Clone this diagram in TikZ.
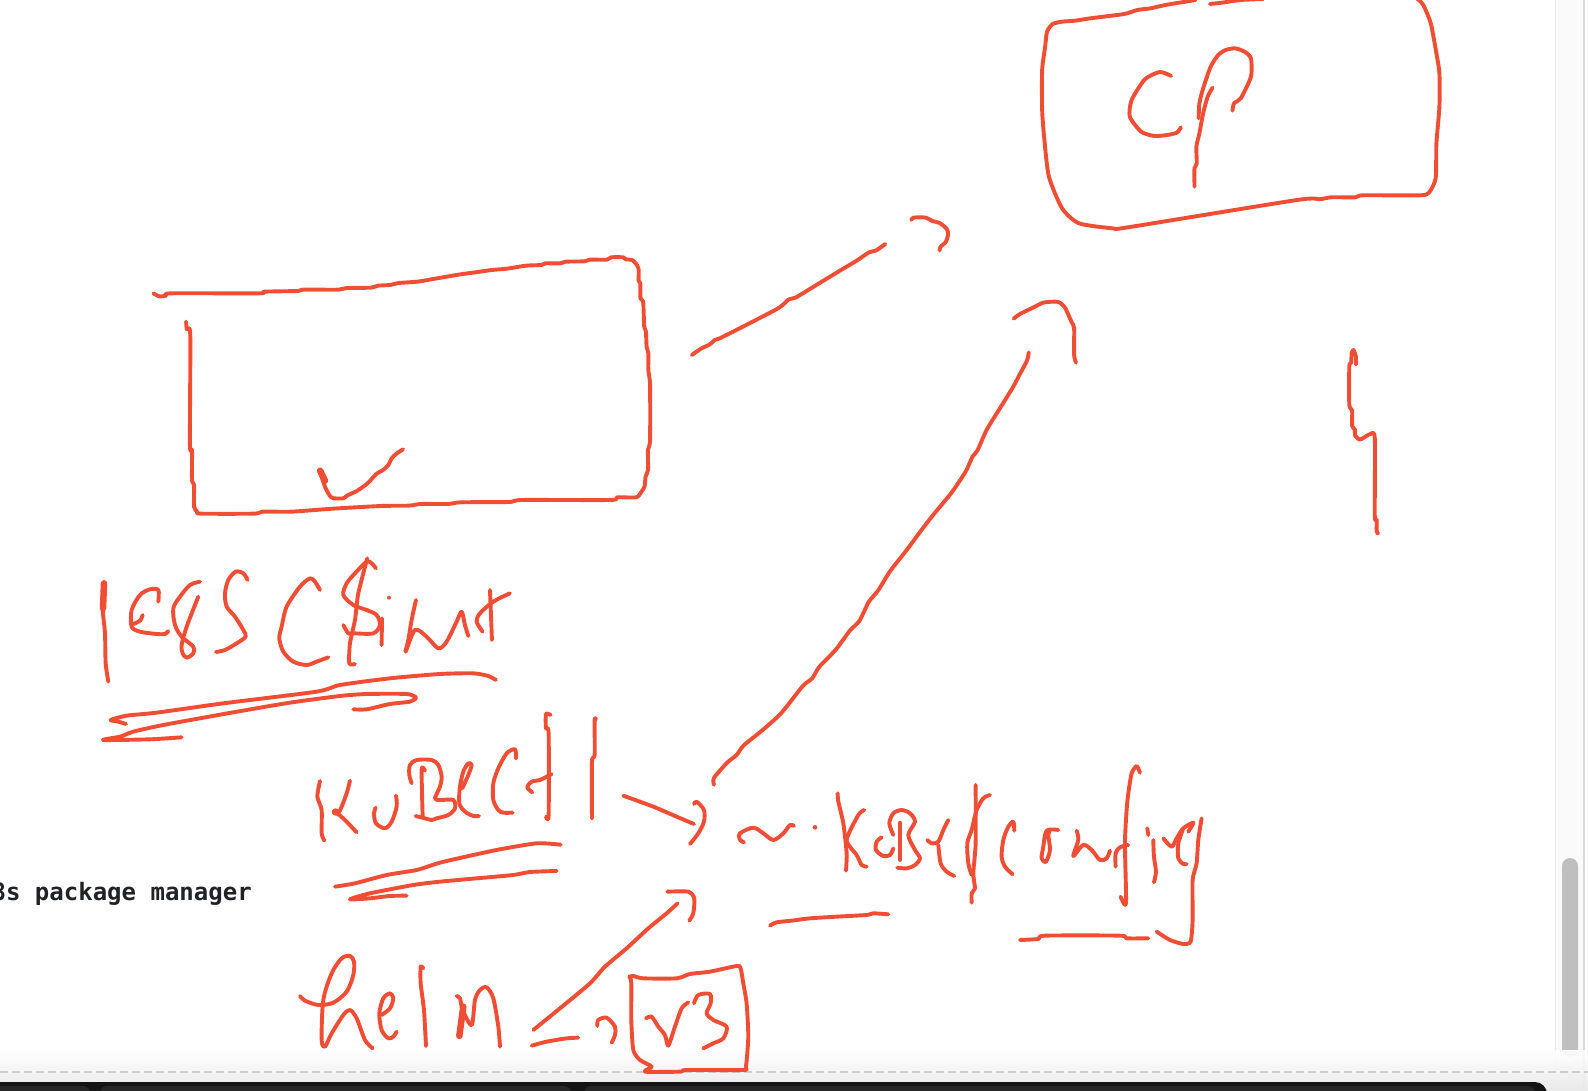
\documentclass[tikz,border=0pt]{standalone}
\usepackage{fontspec}
\setmonofont{DejaVu Sans Mono}
\definecolor{inkred}{HTML}{F04D35}
\definecolor{termtext}{HTML}{1F2328}
\begin{document}
\begin{tikzpicture}[x=1pt,y=-1pt,
        ink/.style={draw=inkred,line width=3.9pt,line cap=round,line join=round},
        thickink/.style={ink,line width=6.5pt},
        dashrule/.style={draw=black!20,line width=1.6pt,dash pattern=on 8pt off 4pt},
        dockbar/.style={fill=black!85,rounded corners=7pt}]
        \useasboundingbox (0,0) rectangle (1588,1090);
        \clip (0,0) rectangle (1588,1090);
        \fill[white] (0,0) rectangle (1588,1090);
        \fill[black!2] (1555,0) rectangle (1584,1090);
        \draw[black!9,line width=1pt] (1555,0) -- (1555,1072);
        \draw[black!15,line width=1.2pt] (1584,0) -- (1584,1090);
        \fill[black!25,rounded corners=8pt] (1562,858) rectangle (1578,1057);
        \shade[top color=white,bottom color=black!9,opacity=0.9] (0,1050) rectangle (1588,1090);
        \draw[dashrule] (0,1072) -- (1588,1072);
        \fill[black!92,rounded corners=12pt] (-30,1082) rectangle (1547,1130);
        \fill[dockbar] (-30,1086) rectangle (90,1120);
        \fill[dockbar] (100,1086) rectangle (571,1120);
        \fill[dockbar] (584,1086) rectangle (1535,1120);

        \node[anchor=base west,inner sep=0pt,text=termtext,font=\ttfamily\bfseries\fontsize{24}{28}\selectfont] (pkgtext) at (-23,900) {k8s package manager};

        \begin{scope}[shift={(130,240)},xscale=0.3444,yscale=0.3333]
        \draw[ink] plot[smooth,tension=0.4] coordinates {(68,160) (85,169) (105,167) (120,160) (375,160) (390,155) (485,153) (505,149) (605,149) (630,144) (700,143) (720,137) (755,135) (780,129) (835,125) (880,117) (960,103) (1010,96) (1050,90) (1095,86) (1150,77) (1195,75) (1205,70) (1250,70) (1265,65) (1320,64) (1335,59) (1385,59) (1397,52) (1432,52) (1440,58) (1458,60) (1472,75) (1477,90) (1477,122) (1482,130) (1482,175) (1490,185) (1493,260) (1498,275) (1500,320) (1505,340) (1505,390) (1510,435) (1510,600) (1504,630) (1504,690) (1497,710) (1494,740) (1485,755) (1470,772) (1415,772) (1395,780) (1140,780) (1100,786) (960,787) (925,792) (845,792) (810,797) (730,798) (590,806) (470,815) (385,815) (360,821) (205,821) (195,815) (186,800) (186,735) (180,720) (180,630) (174,615) (175,285) (165,268) (163,245)};
        \draw[ink] plot[smooth,tension=0.4] coordinates {(553,700) (568,745) (582,770) (590,775) (620,775) (630,767) (660,752) (690,730) (715,702) (735,690) (750,675) (760,655) (775,640) (793,628)};
        \draw[thickink] (552,692) -- (566,722);
        \end{scope}

        \begin{scope}[shift={(680,200)},xscale=0.472,yscale=0.3827]
        \draw[ink] plot[smooth,tension=0.4] coordinates {(25,405) (45,388) (62,378) (75,365) (90,358) (205,285) (230,260) (245,255) (285,225) (345,180) (375,158) (400,137) (415,132) (435,115)};
        \draw[ink] plot[smooth,tension=0.4] coordinates {(490,52) (495,46) (520,46) (535,55) (550,60) (565,75) (568,90) (563,110) (552,122) (550,132)};
        \draw[ink] plot[smooth,tension=0.4] coordinates {(72,1528) (72,1510) (100,1470) (120,1450) (135,1425) (175,1385) (215,1340) (260,1270) (280,1250) (295,1220) (330,1175) (360,1125) (380,1100) (400,1050) (420,1020) (445,970) (480,915) (510,865) (535,825) (575,765) (605,710) (620,670) (630,655) (650,600) (680,540) (705,490) (720,455) (735,420) (739,398)};
        \draw[ink] plot[smooth,tension=0.4] coordinates {(707,310) (720,298) (750,280) (770,268) (800,266) (815,280) (830,320) (835,335) (835,405) (839,425)};
        \draw[ink] plot[smooth,tension=0.4] coordinates {(1432,430) (1432,410) (1427,392) (1423,400) (1422,425) (1418,435) (1418,535) (1424,550) (1424,590) (1430,600) (1430,615) (1440,626) (1450,620) (1462,612) (1472,622) (1472,825) (1476,835) (1476,865) (1479,872)};
        \end{scope}

        \begin{scope}[shift={(1000,0)},xscale=0.3762,yscale=0.3333]
        \draw[ink] plot[smooth,tension=0.4] coordinates {(520,0) (440,15) (400,25) (365,30) (330,42) (240,55) (200,62) (165,65) (140,72) (125,95) (120,140) (112,210) (112,330) (118,420) (130,530) (165,625) (210,670) (300,685) (340,682) (790,600) (850,598) (880,592) (945,592) (965,586) (1115,586) (1140,578) (1158,535) (1160,430) (1168,320) (1168,220) (1160,160) (1145,70) (1125,15) (1108,-5)};
        \draw[ink] plot[smooth,tension=0.4] coordinates {(558,12) (590,8) (640,0) (700,-3)};
        \draw[ink] plot[smooth,tension=0.4] coordinates {(455,228) (425,216) (385,238) (350,300) (345,350) (375,395) (410,408) (445,405) (470,398) (481,382)};
        \draw[ink] plot[smooth,tension=0.4] coordinates {(517,560) (517,505) (523,490) (522,440) (530,400) (540,340) (552,290) (565,263)};
        \draw[ink] plot[smooth,tension=0.4] coordinates {(528,355) (530,310) (540,265) (560,200) (580,165) (600,150) (625,145) (650,155) (667,175) (667,230) (640,295) (622,310) (618,332)};
        \end{scope}

        \begin{scope}[shift={(90,550)},scale=0.3333]
        \draw[ink] plot[smooth,tension=0.4] coordinates {(42,97) (38,175) (45,250) (47,340) (55,395)};
        \draw[thickink] (42,100) -- (39,175);
        \draw[ink] plot[smooth,tension=0.5] coordinates {(205,155) (205,120) (180,118) (150,135) (125,180) (125,230) (150,245) (200,252) (225,252) (235,243)};
        \draw[ink] plot[smooth,tension=0.5] coordinates {(130,222) (150,212) (158,195)};
        \draw[ink] plot[smooth,tension=0.5] coordinates {(330,95) (300,105) (270,140) (250,175) (255,225) (275,260) (310,290) (310,310) (290,323) (278,310) (275,285) (290,230) (325,140)};
        \draw[ink] plot[smooth,tension=0.5] coordinates {(473,90) (460,70) (437,65) (415,90) (405,130) (410,170) (435,200) (460,240) (467,260) (440,280) (405,300) (378,306)};
        \draw[ink] plot[smooth,tension=0.5] coordinates {(690,120) (675,95) (660,85) (630,110) (590,170) (575,230) (568,265) (580,305) (610,335) (650,345) (680,335) (715,322)};
        \draw[ink] plot[smooth,tension=0.5] coordinates {(858,55) (845,40) (830,35) (795,70) (770,100) (760,135) (790,165) (830,180) (860,195) (870,225) (850,250) (790,250) (775,250) (760,225)};
        \draw[ink] plot[smooth,tension=0.4] coordinates {(832,25) (805,130) (795,210) (780,280) (778,340) (795,342)};
        \draw[ink] (876,205) -- (875,285);
        \fill[inkred] (897,143) circle (6);
        \draw[ink] plot[smooth,tension=0.5] coordinates {(978,150) (965,210) (955,270) (947,305) (975,240) (1010,260) (1045,295) (1070,275) (1100,215) (1115,185) (1125,225) (1135,258)};
        \draw[ink] plot[smooth,tension=0.5] coordinates {(1178,245) (1160,215) (1170,190) (1210,155) (1260,130)};
        \draw[ink] (1200,120) -- (1206,270);
        \draw[ink] plot[smooth,tension=0.4] coordinates {(1218,390) (1195,378) (1150,370) (1050,372) (900,385) (750,405) (680,425) (400,460) (200,488) (110,497) (62,510) (85,515) (108,522)};
        \draw[ink] plot[smooth,tension=0.4] coordinates {(790,478) (830,478) (900,462) (960,455) (978,443) (950,432) (830,432) (750,438) (600,458) (430,487) (220,525) (130,545) (90,560) (40,570) (180,568) (275,562)};
        \end{scope}

        \begin{scope}[shift={(300,700)},scale=0.3333]
        \draw[ink] plot[smooth,tension=0.4] coordinates {(60,243) (52,290) (65,330) (65,400) (73,422)};
        \draw[ink] plot[smooth,tension=0.4] coordinates {(150,242) (140,280) (118,335) (100,335) (118,345) (140,365) (170,397)};
        \fill[inkred] (107,336) circle (11);
        \draw[ink] plot[smooth,tension=0.5] coordinates {(227,323) (222,340) (228,370) (255,385) (275,365) (290,320) (288,287)};
        \draw[ink] plot[smooth,tension=0.5] coordinates {(335,250) (328,225) (330,195) (350,180) (395,180) (415,195) (425,230) (420,260) (405,295) (420,300) (460,300) (465,325) (445,345) (410,355) (395,360) (375,355) (347,348)};
        \draw[ink] plot[smooth,tension=0.4] coordinates {(375,212) (365,208) (368,350)};
        \draw[ink] plot[smooth,tension=0.5] coordinates {(487,265) (505,225) (515,195) (505,190) (490,215) (480,260) (478,310) (495,335) (520,348) (537,348)};
        \draw[ink] plot[smooth,tension=0.5] coordinates {(648,175) (645,148) (620,160) (595,205) (580,250) (580,300) (595,330) (610,338) (638,338)};
        \draw[ink] plot[smooth,tension=0.4] coordinates {(752,45) (738,42) (738,85) (746,100) (746,345) (738,350)};
        \draw[ink] plot[smooth,tension=0.5] coordinates {(697,277) (682,262) (695,245) (720,240) (755,222)};
        \draw[ink] plot[smooth,tension=0.4] coordinates {(888,58) (884,60) (884,165) (876,185) (876,355)};
        \draw[ink] plot[smooth,tension=0.4] coordinates {(970,287) (1060,320) (1130,350) (1182,372)};
        \draw[ink] plot[smooth,tension=0.5] coordinates {(1182,312) (1190,305) (1212,330) (1212,365) (1195,400) (1170,432)};
        \draw[ink] plot[smooth,tension=0.4] coordinates {(105,560) (165,550) (260,525) (350,510) (420,488) (520,465) (600,448) (710,430) (782,434)};
        \draw[ink] plot[smooth,tension=0.4] coordinates {(770,513) (690,516) (640,525) (530,535) (420,545) (340,555) (210,580) (150,598) (210,595) (270,588) (320,587)};
        \end{scope}

        \begin{scope}[shift={(290,870)},scale=0.3333]
        \draw[ink] plot[smooth,tension=0.4] coordinates {(730,480) (810,415) (900,340) (945,290) (1010,235) (1075,175) (1130,130) (1163,100)};
        \draw[ink] plot[smooth,tension=0.4] coordinates {(1132,65) (1195,65) (1213,85) (1210,130) (1198,152)};
        \draw[ink] plot[smooth,tension=0.5] coordinates {(30,378) (45,392) (85,405) (130,398) (170,365) (190,315) (192,275) (180,258) (155,265) (125,310) (100,390) (95,510) (105,530) (125,490) (160,435) (180,420) (200,445) (225,510) (248,535)};
        \draw[ink] plot[smooth,tension=0.5] coordinates {(275,435) (300,415) (310,385) (300,370) (280,385) (268,430) (275,480) (295,505) (310,500) (320,485)};
        \draw[ink] plot[smooth,tension=0.4] coordinates {(400,295) (392,290) (392,340) (402,420) (408,528)};
        \draw[ink] plot[smooth,tension=0.5] coordinates {(500,378) (510,385) (518,420) (545,465) (555,390) (570,360) (590,352) (610,385) (625,470) (630,530)};
        \draw[thickink] (520,410) -- (508,498);
        \draw[ink] plot[smooth,tension=0.4] coordinates {(725,527) (770,515) (830,505) (865,503)};
        \draw[ink] plot[smooth,tension=0.5] coordinates {(922,468) (925,450) (950,443) (975,470) (975,495) (965,518)};
        \draw[ink] plot[smooth,tension=0.4] coordinates {(1018,320) (1030,318) (1060,325) (1160,325) (1200,312) (1260,305) (1340,288) (1352,295) (1360,340) (1370,400) (1375,500) (1368,590) (1358,600) (1190,600) (1170,605) (1065,605) (1085,590) (1050,570) (1030,540) (1024,450) (1024,340) (1018,320)};
        \draw[ink] plot[smooth,tension=0.4] coordinates {(1068,445) (1085,440) (1105,470) (1125,495) (1135,527) (1155,470) (1175,415) (1195,397)};
        \draw[ink] plot[smooth,tension=0.5] coordinates {(1212,400) (1225,375) (1260,372) (1262,400) (1250,430) (1270,450) (1310,470) (1300,505) (1270,520) (1240,535)};
        \end{scope}

        \begin{scope}[shift={(730,760)},scale=0.3333]
        \draw[ink] plot[smooth,tension=0.5] coordinates {(42,247) (30,240) (30,220) (70,203) (100,220) (130,240) (160,220) (180,195) (192,198)};
        \fill[inkred] (255,202) circle (7);
        \draw[ink] plot[smooth,tension=0.4] coordinates {(323,100) (325,125) (340,190) (350,280) (348,332)};
        \draw[ink] plot[smooth,tension=0.4] coordinates {(403,150) (385,165) (350,240) (380,285) (395,315) (410,320)};
        \draw[ink] plot[smooth,tension=0.5] coordinates {(455,232) (440,245) (438,270) (460,288) (480,285) (490,265)};
        \draw[ink] plot[smooth,tension=0.5] coordinates {(490,225) (478,190) (490,160) (515,150) (540,160) (555,185) (535,225) (555,270) (570,295) (555,315) (530,325) (502,323)};
        \draw[ink] (510,188) -- (510,300);
        \draw[ink] plot[smooth,tension=0.5] coordinates {(655,180) (640,210) (625,245) (605,250) (592,240)};
        \draw[ink] plot[smooth,tension=0.5] coordinates {(625,255) (632,310) (650,335) (673,348)};
        \draw[ink] plot[smooth,tension=0.4] coordinates {(737,75) (737,250) (730,340) (735,385) (725,400) (725,428)};
        \draw[ink] plot[smooth,tension=0.5] coordinates {(780,105) (760,115) (740,150) (725,210) (712,250) (715,310) (725,345)};
        \draw[ink] plot[smooth,tension=0.5] coordinates {(853,212) (850,185) (835,200) (820,240) (815,290) (825,320) (848,343)};
        \draw[ink] plot[smooth,tension=0.5] coordinates {(985,210) (950,212) (940,260) (935,295) (948,305) (960,270) (955,225) (960,210)};
        \draw[ink] plot[smooth,tension=0.5] coordinates {(1040,212) (1045,240) (1030,288) (1060,255) (1085,270) (1110,300) (1130,295) (1140,272)};
        \draw[ink] plot[smooth,tension=0.4] coordinates {(1230,38) (1220,18) (1205,40) (1195,100) (1190,150) (1185,250) (1188,430) (1172,410)};
        \draw[ink] plot[smooth,tension=0.5] coordinates {(1157,320) (1157,280) (1170,262) (1195,255)};
        \draw[ink] (1252,205) -- (1255,225);
        \draw[ink] plot[smooth,tension=0.5] coordinates {(1270,240) (1272,290) (1278,335) (1272,367)};
        \draw[ink] plot[smooth,tension=0.5] coordinates {(1300,235) (1325,260) (1340,235) (1360,205) (1390,188) (1375,215)};
        \draw[ink] plot[smooth,tension=0.5] coordinates {(1360,205) (1345,250) (1345,295) (1360,312) (1370,312)};
        \draw[ink] plot[smooth,tension=0.4] coordinates {(1415,175) (1405,240) (1400,310) (1388,360) (1388,480) (1382,545) (1360,552) (1320,540) (1280,515)};
        \draw[ink] plot[smooth,tension=0.4] coordinates {(120,497) (140,487) (185,482) (240,475) (320,470) (410,465) (430,460) (475,463)};
        \draw[ink] plot[smooth,tension=0.4] coordinates {(870,540) (925,537) (945,527) (1170,527) (1190,535) (1255,535)};
        \end{scope}
    \end{tikzpicture}
\end{document}
